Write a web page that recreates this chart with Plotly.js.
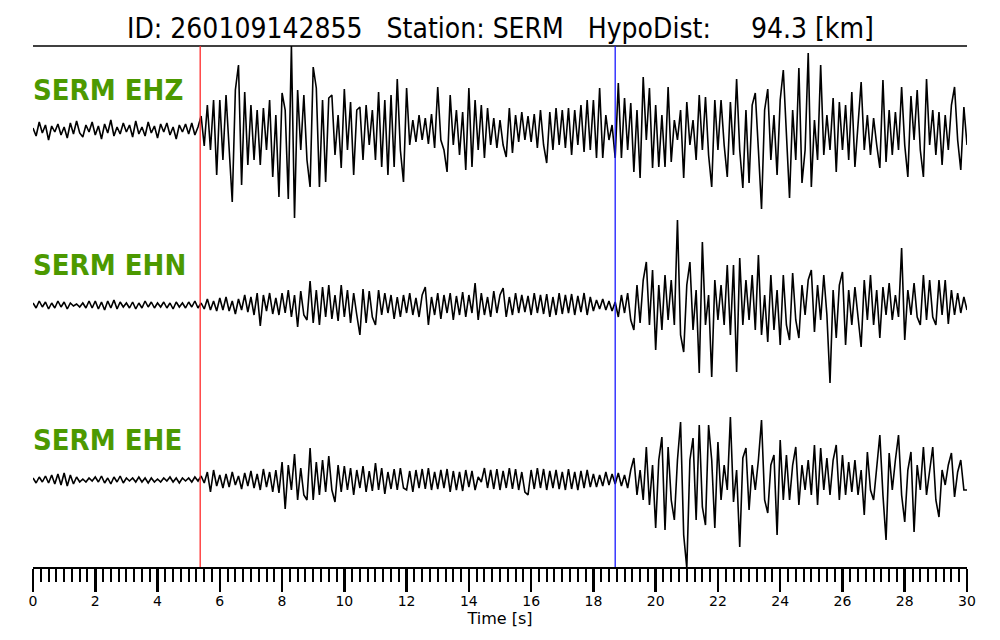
<!DOCTYPE html>
<html><head><meta charset="utf-8">
<script src="https://cdn.plot.ly/plotly-3.0.1.min.js"></script>
<style>html,body{margin:0;padding:0;background:#fff}#plot{width:1000px;height:640px}</style>
</head><body><div id="plot"></div>
<script>
const dt = 0.1;
const channels = ["SERM EHZ", "SERM EHN", "SERM EHE"];
const pPick = 5.37;
const sPick = 18.70;
const tickVals = [0,2,4,6,8,10,12,14,16,18,20,22,24,26,28,30];

// Amplitudes (arbitrary units, up positive), one value every 0.1 s
const ehz = [
 2,-6,8,-3,5,-10,4,-2,6,-5,
 3,-8,7,-4,9,-3,-7,5,-2,8,
 -5,4,-9,6,-3,10,-6,3,-4,7,
 -2,5,-7,9,-4,3,-6,8,-3,4,
 -8,6,-2,7,-5,3,-9,5,-2,6,
 -4,7,-5,3,14,-16,25,-20,30,-45,
 30,-30,35,-20,-72,40,65,-55,38,-35,
 25,-30,20,-35,22,-20,30,-47,15,-67,
 37,20,-69,84,-88,40,-20,35,-30,-57,
 63,42,-57,30,-52,32,35,-25,15,-38,
 41,-20,28,-45,20,23,-30,25,-15,20,
 -30,38,-37,30,-45,35,-37,51,-20,-52,
 42,-15,10,-12,15,-10,12,-14,16,-18,
 43,-10,-20,-42,35,-15,20,-25,18,-40,
 42,-37,30,-20,25,-28,22,-15,12,-18,
 10,-15,-27,22,-23,15,-12,18,-10,14,
 -12,16,-18,20,-15,-33,18,-20,22,-15,
 20,-18,22,-25,20,-15,25,-22,30,-20,
 30,-28,42,-28,15,-10,5,-28,47,-28,
 32,-20,27,-42,20,-48,53,-10,42,-38,
 25,-37,15,-37,43,-32,10,-10,20,-48,
 28,-15,10,-30,35,-20,33,-25,-57,30,
 -20,30,-15,-47,28,-25,51,-20,-58,20,
 -53,25,37,-20,-79,20,41,-30,15,-45,
 30,60,-10,-68,20,-30,62,-53,-20,77,
 -57,10,-30,65,-25,15,-20,32,-42,28,
 -20,25,-30,38,-37,10,48,-20,15,-25,
 12,-15,-38,50,-32,20,-25,18,-20,43,
 -15,-47,34,-10,40,-20,-47,51,-15,20,
 -25,18,-35,15,-20,25,43,-10,-40,23,
 -15];
const ehn = [
 2,-3,4,-2,3,-4,2,-3,4,-2,
 3,-4,2,-1,1,-2,2,-3,4,-3,
 4,-4,3,-5,4,-3,5,-4,3,-2,
 2,-3,3,-4,2,-3,4,-2,3,-3,
 2,-2,3,-3,2,-4,3,-2,2,-3,
 3,-2,4,-3,2,-4,6,-5,4,-6,
 7,-5,8,-6,4,-9,6,-5,10,-7,
 8,-10,12,-21,10,-6,12,-9,7,-10,
 12,-8,15,-12,10,-22,14,-10,-15,24,
 -18,15,-20,18,-12,20,-14,10,-16,20,
 -12,15,-18,12,-10,-30,16,-18,14,-12,
 -20,15,-10,12,-8,10,-14,8,-12,10,
 -8,12,-10,7,-12,10,18,-20,8,-10,
 12,-14,10,-8,12,-15,9,-10,13,-12,
 10,-8,22,-15,12,-10,8,-12,14,-8,
 10,17,-12,8,-10,12,-8,10,-7,9,
 -10,12,-8,10,-9,11,-12,8,-10,12,
 -9,10,-8,11,-10,9,-7,12,-10,8,
 -6,5,-4,6,-5,4,-6,3,-12,10,
 -8,12,-15,-25,20,-18,25,43,-20,35,
 -45,20,-25,30,-15,25,-20,85,-30,-47,
 20,43,-25,15,-68,63,-20,10,-72,25,
 -15,20,-20,40,-30,40,-67,47,-20,25,
 -15,30,-25,50,-30,10,-37,30,-25,15,
 -40,30,-20,-35,32,-15,-33,20,-10,25,
 35,-27,20,-15,30,-10,-78,15,-33,20,
 33,-40,15,-20,18,-12,-42,25,-15,30,
 -20,15,-33,18,-10,22,-15,10,-12,57,
 -35,15,-10,22,-12,-20,30,-15,25,-12,
 -20,25,-10,25,-19,15,-10,12,-8,8,
 -5];
const ehe = [
 2,-3,3,-2,4,-3,5,-4,6,-5,
 7,-6,5,-4,3,-2,1,-2,2,-1,
 3,-2,4,-3,2,-4,3,-2,4,-3,
 2,-1,2,-2,3,-2,2,-3,2,-2,
 1,-2,2,-1,3,-2,2,-3,2,-1,
 2,-2,3,-1,4,-3,8,-12,10,-6,
 5,-8,6,-7,8,-5,4,-9,7,-6,
 9,-8,6,-10,11,-7,8,-12,10,-13,
 18,-29,15,-10,26,-20,12,-15,-20,32,
 -20,18,-15,20,-12,24,-10,-22,15,-12,
 14,-10,12,-15,10,-8,14,-12,9,-11,
 17,-10,12,-14,8,-9,11,-10,12,-8,
 -10,9,-12,10,-8,11,-9,12,-10,8,
 -9,10,-8,11,-12,9,-10,8,-11,10,
 -7,9,-10,3,-2,12,-8,10,-9,11,
 -10,9,-8,12,-9,11,-10,8,-12,-15,
 10,-9,12,-8,11,-10,9,-8,10,-9,
 8,-10,11,-9,8,-10,9,-8,10,-7,
 6,-7,5,-6,8,-5,6,-4,7,-6,
 5,-8,10,22,-15,10,-20,33,-25,15,
 -48,20,43,-50,33,-20,-40,20,58,-55,
 -88,20,42,-40,55,-27,-45,55,20,-48,
 38,-20,15,-10,63,-22,10,-67,22,32,
 -30,15,-10,20,60,-20,-33,15,25,-55,
 40,-20,25,-20,15,33,-25,15,-10,20,
 -15,35,-25,32,-10,22,-15,20,35,-20,
 25,-15,18,-12,20,-15,10,-35,28,-10,
 -20,15,45,-15,-60,27,-10,20,45,-15,
 -42,10,28,-52,15,-10,33,-15,10,33,
 -20,-37,10,-5,15,27,-17,8,20,-10,
 -10];

// Layout constants (pixel-space y axis: y = -pixel row)
const baselines = [-130, -305, -480];
const labelRise = 40;
const series = [ehz, ehn, ehe];

const traces = series.map((vals, k) => ({
  type: 'scatter', mode: 'lines',
  x: vals.map((_, i) => +(i * dt).toFixed(2)),
  y: vals.map(v => v + baselines[k]),
  line: {color: '#000', width: 1.6},
  hoverinfo: 'skip', showlegend: false
}));

const annotations = channels.map((name, k) => ({
  xref: 'paper', yref: 'y', x: 0, y: baselines[k] + labelRise, xshift: -2,
  xanchor: 'left', yanchor: 'middle', showarrow: false,
  text: '<b>' + name + '</b>',
  font: {family: 'DejaVu Sans Condensed', size: 29, color: '#4c9900'}
}));
annotations.push({
  xref: 'paper', yref: 'paper', x: 0.5, y: 1, yshift: -1,
  xanchor: 'center', yanchor: 'bottom', showarrow: false,
  text: 'ID: 260109142855\u00a0\u00a0\u00a0Station: SERM\u00a0\u00a0\u00a0HypoDist:\u00a0\u00a0\u00a0\u00a0\u00a094.3 [km]',
  font: {family: 'DejaVu Sans Condensed', size: 28, color: '#000'}
});

const shapes = [
  {type: 'line', xref: 'paper', yref: 'paper', x0: 0, x1: 1, y0: 1, y1: 1, line: {color: '#000', width: 1.6}},
  {type: 'line', xref: 'x', yref: 'paper', x0: pPick, x1: pPick, y0: 0, y1: 1, line: {color: '#ff2a2a', width: 1.3}},
  {type: 'line', xref: 'x', yref: 'paper', x0: sPick, x1: sPick, y0: 0, y1: 1, line: {color: '#1a1aff', width: 1.3}}
];

const layout = {
  width: 1000, height: 640,
  margin: {l: 33, r: 33, t: 46, b: 73},
  paper_bgcolor: '#fff', plot_bgcolor: '#fff',
  xaxis: {
    range: [0, 30], tickvals: tickVals, ticktext: tickVals.map(String),
    ticks: 'outside', ticklen: 23, tickwidth: 2.5, tickcolor: '#000',
    showline: true, linecolor: '#000', linewidth: 2,
    showgrid: false, zeroline: false, ticklabelstandoff: -3,
    tickfont: {family: 'DejaVu Sans', size: 14, color: '#000'},
    minor: {dtick: 0.25, ticks: 'outside', ticklen: 13, tickwidth: 2, tickcolor: '#000', showgrid: false},
    title: {text: 'Time [s]', standoff: 0, font: {family: 'DejaVu Sans', size: 16, color: '#000'}}
  },
  yaxis: {range: [-567, -46], visible: false, showgrid: false, zeroline: false},
  shapes: shapes, annotations: annotations
};

Plotly.newPlot('plot', traces, layout, {staticPlot: true, displayModeBar: false});
</script></body></html>
